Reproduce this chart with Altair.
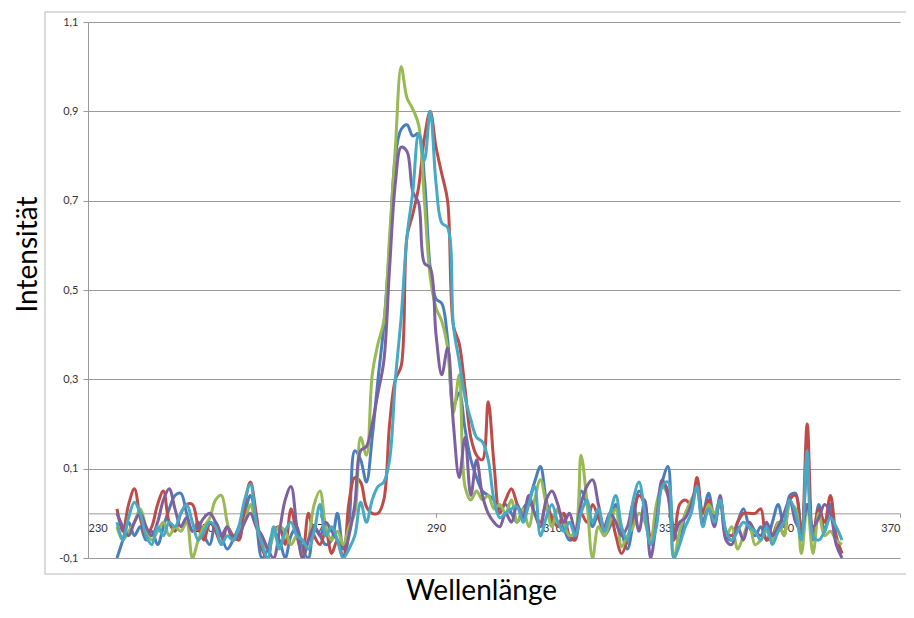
import altair as alt
import pandas as pd

# ---------------- data ----------------
wavelengths = list(range(235, 361))  # 1 nm steps, 235 ... 360

blue = [
    -0.1, -0.06, -0.02, -0.05, -0.03, -0.06, -0.04, -0.07, -0.03, 0.01,
    0.04, 0.045, 0.0, -0.04, -0.02, -0.05, -0.07, -0.02, -0.05, -0.08,
    -0.06, -0.03, 0.0, 0.04, -0.02, -0.1, -0.08, -0.04, -0.06, -0.1,
    -0.05, -0.03, -0.08, -0.1, -0.03, -0.05, -0.07, -0.06, 0.0, -0.08,
    -0.02,
    0.14, 0.12, 0.07, 0.17, 0.3, 0.42, 0.6, 0.8, 0.86, 0.87,
    0.845, 0.85, 0.75, 0.55, 0.48, 0.47, 0.39, 0.24, 0.27, 0.19,
    0.12, 0.08, 0.05, 0.04, 0.03,
    0.01, 0.02, 0.0, -0.02, 0.01, 0.03, 0.07, 0.105, 0.03, -0.02,
    0.01, -0.03, -0.06, -0.05, 0.05, 0.02, -0.03, 0.0, -0.05, -0.03,
    0.02, -0.04, -0.08, -0.02, 0.05, 0.02, -0.07, 0.0, 0.07, 0.105,
    -0.04, -0.06, 0.0, 0.02, 0.06, 0.0, 0.045, -0.01, 0.03, -0.05,
    -0.06, -0.02, 0.01, -0.03, -0.05, -0.03, -0.06, -0.02, 0.02, -0.03,
    0.04, 0.045, -0.05, 0.1, -0.06, 0.02, -0.04, 0.02, -0.06, -0.09,
]

red = [
    0.01, -0.04, 0.02, 0.055, -0.01, -0.05, -0.03, 0.02, 0.05, -0.02,
    -0.04, 0.0, 0.02, 0.02, -0.03, -0.06, -0.02, -0.04, -0.07, -0.03,
    -0.05, -0.06, 0.02, 0.07, 0.0, -0.08, -0.1, -0.04, -0.03, -0.07,
    0.01, -0.05, -0.09, 0.0, -0.05, -0.07, -0.04, -0.09, -0.06, -0.1,
    0.025,
    0.08, 0.07, 0.015, 0.0, 0.0, 0.03, 0.2, 0.3, 0.33, 0.62,
    0.67, 0.73, 0.84, 0.9, 0.82, 0.76, 0.7, 0.42, 0.38, 0.28,
    0.17, 0.13, 0.12, 0.25, 0.11,
    0.0, 0.03, 0.055, 0.02, -0.01, 0.03, 0.0, -0.02, 0.02, -0.01,
    -0.03, 0.0, -0.05, -0.06, 0.0, -0.02, 0.02, -0.01, -0.04, 0.0,
    -0.05, -0.09, -0.06, 0.0, 0.04, 0.02, -0.05, -0.02, 0.07, 0.05,
    -0.06, 0.02, 0.03, 0.02, 0.08, 0.0, 0.03, -0.02, 0.03, -0.04,
    -0.05, -0.02, 0.0, 0.0, 0.0, 0.01, -0.06, -0.05, -0.02, -0.05,
    0.03, 0.04, -0.05, 0.2, -0.05, 0.01, -0.02, 0.04, -0.05, -0.09,
]

green = [
    -0.03, -0.06, -0.04, -0.02, 0.01, -0.03, -0.06, -0.04, -0.02, -0.05,
    -0.03, -0.04, -0.02, -0.1, -0.06, -0.03, -0.01, 0.03, 0.04, -0.02,
    -0.06, -0.04, -0.02, 0.02, -0.03, -0.06, -0.08, -0.05, -0.03, -0.04,
    -0.07, -0.05, -0.1, -0.06, 0.02, 0.05, -0.03, -0.06, -0.04, -0.07,
    -0.03,
    0.0, 0.17, 0.13, 0.31, 0.38, 0.43, 0.62, 0.82, 1.0, 0.93,
    0.905, 0.87, 0.7, 0.53, 0.46, 0.43, 0.37, 0.225, 0.31, 0.06,
    0.03, 0.05, 0.03, 0.04, 0.01,
    0.02, 0.0, 0.03, -0.02, 0.01, -0.03, 0.03, 0.075, 0.02, -0.03,
    0.01, -0.02, -0.05, -0.04, 0.13, 0.03, -0.1, -0.03, -0.05, -0.02,
    0.01, -0.075, -0.05, -0.03, 0.0, -0.02, -0.06, 0.02, 0.06, 0.04,
    -0.1, -0.04, 0.0, 0.03, 0.05, -0.02, 0.02, 0.0, 0.03, -0.05,
    -0.03, -0.08, -0.05, -0.02, -0.07, -0.06, -0.04, -0.06, -0.02, -0.05,
    0.02, 0.01, -0.09, 0.02, -0.09, 0.0, -0.05, -0.04, -0.06, -0.07,
]

purple = [
    0.0, -0.03, -0.05, -0.02, 0.0, -0.03, -0.05, -0.02, 0.03, 0.055,
    0.01, -0.03, -0.01, -0.04, -0.03, -0.01, 0.0, -0.02, -0.05, -0.03,
    -0.06, -0.05, -0.02, 0.0, -0.03, -0.05, -0.08, -0.1, -0.04, 0.03,
    0.06, -0.03, -0.1, -0.06, -0.03, -0.05, -0.02, -0.04, -0.06, -0.1,
    -0.05,
    0.02, 0.14, 0.15, 0.2, 0.27, 0.34, 0.55, 0.74, 0.82, 0.81,
    0.72, 0.695, 0.56, 0.55, 0.4, 0.31, 0.37, 0.2, 0.08, 0.17,
    0.04, 0.12, 0.04, 0.0, -0.02,
    -0.03, 0.0, -0.02, 0.02, -0.01, 0.04, 0.0, -0.03, 0.03, 0.05,
    0.02, -0.02, 0.0, -0.04, 0.02, 0.06, 0.075, 0.02, -0.03, 0.0,
    -0.02, -0.05, -0.03, 0.02, -0.04, 0.03, -0.1, -0.02, 0.075, 0.04,
    -0.05, -0.02, -0.01, 0.02, 0.06, -0.02, 0.01, -0.03, 0.04, -0.06,
    -0.07, -0.03, -0.06, -0.02, -0.04, -0.05, -0.02, -0.05, -0.03, 0.0,
    0.03, -0.02, -0.04, 0.02, -0.03, -0.01, 0.02, 0.0, -0.07, -0.1,
]

cyan = [
    -0.02, -0.06, -0.01, 0.025, 0.0, -0.05, -0.07, -0.03, -0.05, -0.02,
    -0.03, 0.0, 0.02, -0.02, -0.06, -0.04, -0.02, -0.03, -0.07, -0.05,
    -0.06, -0.03, 0.03, 0.065, -0.02, -0.07, -0.1, -0.03, -0.08, -0.04,
    -0.02, -0.05, -0.06, -0.08, -0.04, 0.02, -0.05, -0.03, -0.06, -0.1,
    -0.08,
    -0.05, 0.025, -0.02, 0.03, 0.06, 0.07, 0.12, 0.3, 0.44, 0.62,
    0.72, 0.85, 0.79, 0.9, 0.74, 0.65, 0.64, 0.42, 0.34, 0.26,
    0.21, 0.17, 0.16, 0.12, 0.03,
    -0.01, 0.0, 0.01, 0.015, -0.02, 0.02, 0.06, -0.05, -0.01, 0.02,
    -0.02, -0.04, -0.02, -0.05, 0.0, 0.03, -0.02, 0.01, -0.04, 0.0,
    0.04, -0.03, -0.06, 0.03, 0.07, 0.0, -0.07, -0.03, 0.06, 0.07,
    -0.1, -0.07, -0.03, 0.0, 0.06, -0.03, 0.01, -0.02, 0.03, -0.04,
    -0.06, -0.04, -0.02, -0.03, -0.04, -0.06, -0.03, -0.07, -0.04, -0.02,
    0.03, 0.0, -0.06, 0.14, -0.05, -0.06, -0.04, -0.01, -0.03, -0.06,
]

series_names = ["Reihe1", "Reihe2", "Reihe3", "Reihe4", "Reihe5"]
series_colors = ["#4A7EBB", "#BE4B48", "#98B954", "#7D60A0", "#46AAC5"]
x_ticks = [230, 250, 270, 290, 310, 330, 350, 370]
y_ticks = [-0.1, 0.1, 0.3, 0.5, 0.7, 0.9, 1.1]

rows = []
for name, vals in zip(series_names, [blue, red, green, purple, cyan]):
    assert len(vals) == len(wavelengths), (name, len(vals))
    for w, v in zip(wavelengths, vals):
        rows.append({"wl": w, "val": v, "series": name})
df = pd.DataFrame(rows)

# ---------------- layout ----------------
W, H = 812, 536
YMIN, YMAX = -0.1, 1.1
zero_offset = -H * (0 - YMIN) / (YMAX - YMIN)
GRID = "#9A9A9A"
FONT = "Lato"

lines = alt.Chart(df).mark_line(
    interpolate="catmull-rom", strokeWidth=3, clip=True
).encode(
    x=alt.X(
        "wl:Q",
        scale=alt.Scale(domain=[230, 370], nice=False, zero=False),
        axis=alt.Axis(
            values=x_ticks, offset=zero_offset, grid=False,
            domainColor=GRID, tickColor=GRID, tickSize=4,
            labelFont=FONT, labelFontSize=11, labelColor="#333333",
            labelPadding=5,
            title="Wellenlänge", titleFont=FONT, titleFontSize=28,
            titleFontWeight="normal", titleColor="#000000",
            titleX=393, titleY=86, titleAlign="center",
            titleBaseline="alphabetic",
        ),
    ),
    y=alt.Y(
        "val:Q",
        scale=alt.Scale(domain=[YMIN, YMAX], nice=False, zero=False),
        axis=alt.Axis(
            values=y_ticks,
            labelExpr="replace(replace(format(datum.value, '.1f'), '.', ','), '\u2212', '-')",
            grid=True, gridColor=GRID, gridWidth=1,
            domainColor=GRID, tickColor=GRID, tickSize=5,
            labelFont=FONT, labelFontSize=11, labelColor="#333333",
            labelPadding=5,
            title="Intensität", titleFont=FONT, titleFontSize=28,
            titleFontWeight="normal", titleColor="#000000",
            titleAngle=270, titleX=-60, titleY=232,
            titleAlign="center", titleBaseline="middle",
        ),
    ),
    color=alt.Color(
        "series:N",
        scale=alt.Scale(domain=series_names, range=series_colors),
        legend=None,
    ),
    order=alt.Order("wl:Q"),
)

frame = alt.Chart(alt.Data(values=[{"f": 1}])).mark_rect(
    fill="transparent", stroke="#CFCFCF", strokeWidth=1.5, clip=False
).encode(
    x=alt.value(-43), x2=alt.value(840), y=alt.value(-10), y2=alt.value(552)
)

chart = alt.layer(frame, lines).properties(
    width=W, height=H,
    autosize=alt.AutoSizeParams(type="none"),
    padding={"left": 80, "top": 14, "right": 6, "bottom": 52},
    background="white",
).configure_view(strokeWidth=0)

chart.save("out.html", embed_options={"renderer": "svg", "actions": False})
